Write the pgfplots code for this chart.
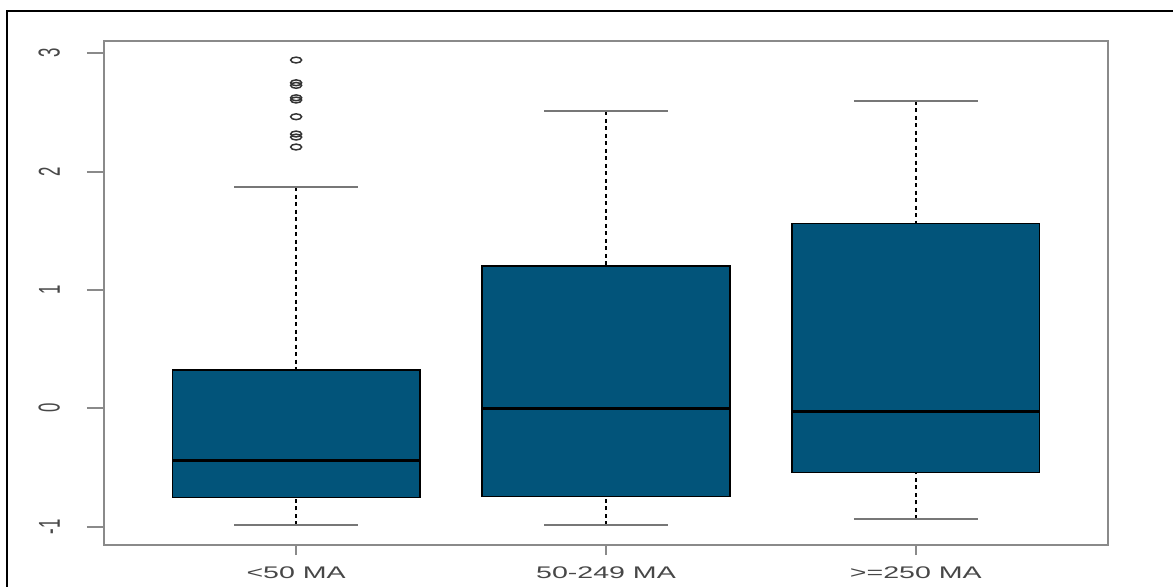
\documentclass[border=0pt]{standalone}
\usepackage{fontspec}
\setmainfont{Liberation Sans}
\usepackage{graphicx}
\usepackage{pgfplots}
\pgfplotsset{compat=1.18}
\usepgfplotslibrary{statistics}
\definecolor{boxblue}{HTML}{02547A}
\definecolor{axgray}{HTML}{8A8A8A}
\definecolor{txtgray}{HTML}{474747}
\definecolor{capgray}{HTML}{777777}
\newcommand{\xs}[1]{\scalebox{1.7}[1]{#1}}
\newcommand{\ys}[1]{\scalebox{1}[1.8]{#1}}
\pgfdeclareplotmark{oval}{%
  \pgfpathellipse{\pgfpointorigin}{\pgfqpoint{1.9\pgfplotmarksize}{0pt}}{\pgfqpoint{0pt}{\pgfplotmarksize}}%
  \pgfusepathqstroke}
\begin{document}
\begin{tikzpicture}
\useasboundingbox (0,0) rectangle (1173bp,587bp);
\draw[black, line width=1.5bp] (7bp,0) -- (7bp,576bp) -- (1173bp,576bp);
\begin{axis}[
  at={(104bp,42bp)}, anchor=south west,
  scale only axis, width=1004bp, height=504bp,
  xmin=0.38, xmax=3.62, ymin=-1.155, ymax=3.104,
  axis line style={axgray, line width=2bp},
  tick align=outside,
  major tick length=10bp,
  xtick={1,2,3},
  xticklabels={\xs{<50 MA},\xs{50-249 MA},\xs{>=250 MA}},
  ytick={-1,0,1,2,3},
  yticklabels={\ys{-1},\ys{0},\ys{1},\ys{2},\ys{3}},
  xtick style={axgray, line width=2bp},
  ytick style={axgray, line width=2bp, /pgfplots/major tick length=17bp},
  tick label style={txtgray, font=\fontsize{16.8bp}{20bp}\selectfont},
  yticklabel style={rotate=90, anchor=south, inner ysep=34bp},
  xticklabel style={anchor=north, inner ysep=12bp},
  xtick pos=bottom, ytick pos=left,
  boxplot/draw direction=y,
  boxplot/box extend=0.8,
  boxplot/whisker extend=0.4,
  boxplot/every box/.style={draw=black, fill=boxblue, line width=1.3bp},
  boxplot/every median/.style={black, line width=3bp},
  boxplot/draw/lower whisker/.code={
    \draw[black, line width=1.6bp, dash pattern=on 4bp off 3.5bp]
      (boxplot box cs:\pgfplotsboxplotvalue{lower whisker},0.5) -- (boxplot box cs:\pgfplotsboxplotvalue{lower quartile},0.5);
    \draw[capgray, line width=2bp]
      (boxplot whisker cs:\pgfplotsboxplotvalue{lower whisker},0) -- (boxplot whisker cs:\pgfplotsboxplotvalue{lower whisker},1);
  },
  boxplot/draw/upper whisker/.code={
    \draw[black, line width=1.6bp, dash pattern=on 4bp off 3.5bp]
      (boxplot box cs:\pgfplotsboxplotvalue{upper whisker},0.5) -- (boxplot box cs:\pgfplotsboxplotvalue{upper quartile},0.5);
    \draw[capgray, line width=2bp]
      (boxplot whisker cs:\pgfplotsboxplotvalue{upper whisker},0) -- (boxplot whisker cs:\pgfplotsboxplotvalue{upper whisker},1);
  },
]
\addplot[black, mark=oval, mark size=2.9bp, mark options={black!80, line width=1.5bp},
  boxplot prepared={draw position=1, lower whisker=-0.989, lower quartile=-0.752,
    median=-0.443, upper quartile=0.324, upper whisker=1.87}]
  table[row sep=\\, y index=0]{y\\ 2.943\\ 2.751\\ 2.729\\ 2.624\\ 2.605\\ 2.464\\ 2.318\\ 2.292\\ 2.208\\};
\addplot[black,
  boxplot prepared={draw position=2, lower whisker=-0.986, lower quartile=-0.748,
    median=-0.005, upper quartile=1.202, upper whisker=2.510}]
  coordinates {};
\addplot[black,
  boxplot prepared={draw position=3, lower whisker=-0.938, lower quartile=-0.544,
    median=-0.025, upper quartile=1.564, upper whisker=2.600}]
  coordinates {};
\end{axis}
\end{tikzpicture}
\end{document}
